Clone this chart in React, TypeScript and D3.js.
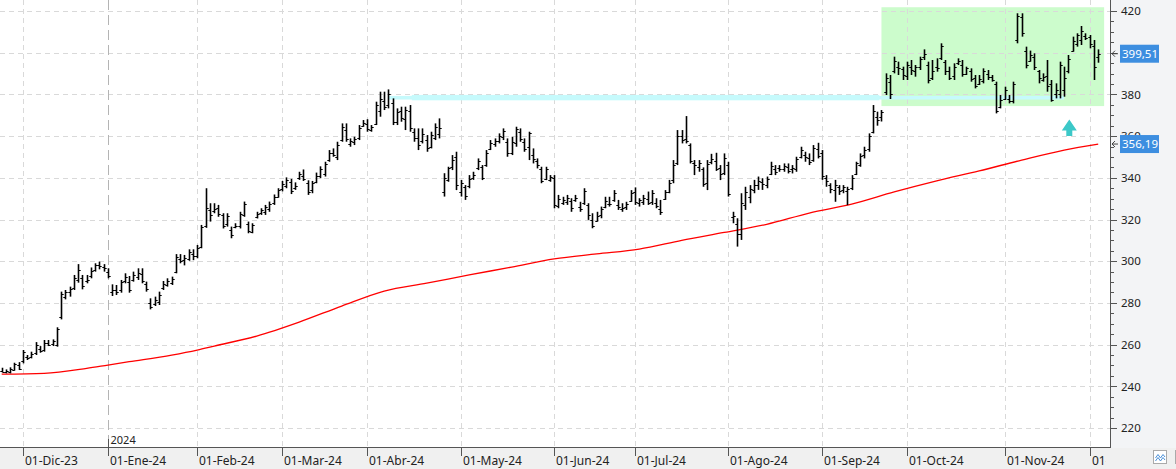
import React from 'react';
import * as d3 from 'd3';

// ---------- DATA ----------
// daily OHLC bars, index 0 = 24-Nov-2023 ... 258 = 04-Dic-2024
const openP = [
247.5,247.0,247.0,248.0,250.0,252.0,254.0,254.0,256.0,258.0,
257.5,261.0,260.5,260.0,273.0,283.0,285.0,287.0,291.0,292.0,
290.5,293.0,296.0,298.0,297.0,295.0,285.0,286.0,286.0,290.5,
290.0,291.0,292.5,294.0,289.0,280.0,279.5,280.5,287.0,288.5,
289.5,295.0,301.0,300.5,301.0,303.5,302.5,307.0,317.0,324.5,
324.0,325.5,322.0,318.0,315.0,316.5,317.0,322.0,318.0,314.0,
321.0,323.0,323.5,325.0,328.0,331.0,334.5,336.0,338.0,335.0,
340.0,341.0,337.5,334.0,338.0,341.0,342.0,348.5,352.0,350.0,
358.0,363.0,356.0,357.0,359.0,365.0,366.0,363.0,366.0,372.0,
377.0,375.0,376.0,367.0,372.0,368.0,372.0,362.0,359.0,357.5,
358.0,355.0,359.0,361.0,333.0,339.0,345.0,350.0,333.0,335.5,
336.0,340.0,344.5,345.0,346.0,354.0,356.0,357.5,359.5,357.0,
352.0,356.5,362.0,357.0,355.0,351.0,348.0,344.0,339.5,339.0,
340.0,326.5,328.0,328.5,329.0,329.5,326.0,328.0,327.0,320.0,
319.5,322.0,326.0,327.5,329.5,327.0,325.0,326.0,329.0,333.0,
328.0,328.5,330.0,328.5,328.0,325.0,330.0,333.0,339.0,347.0,
360.0,358.5,355.5,347.0,345.0,344.0,337.5,347.5,348.0,344.5,
342.5,346.0,321.0,318.0,313.0,327.0,331.0,334.0,336.5,338.0,
336.5,342.0,344.0,344.5,344.0,345.0,344.0,344.0,350.0,351.0,
349.5,348.5,354.0,352.0,340.0,336.5,334.0,335.5,334.0,333.5,
335.0,342.0,346.0,351.0,354.0,362.0,369.0,369.0,381.0,386.0,
391.0,393.0,392.0,389.0,393.0,391.0,393.0,398.0,394.0,388.0,
393.0,397.5,395.5,391.0,389.0,395.0,394.0,390.0,391.0,388.0,
385.0,386.5,390.0,388.5,385.0,374.0,378.0,378.0,377.0,406.0,
417.0,401.0,396.0,398.0,391.0,387.0,389.0,385.0,380.0,380.0,
382.0,391.0,401.0,404.0,406.0,408.0,407.5,403.0,398.0
];
const highP = [
248.9,248.1,249.1,251.3,251.6,257.4,255.0,256.6,261.2,259.3,
262.2,262.2,262.5,268.3,285.4,286.2,287.8,293.4,298.6,293.4,
293.4,297.0,299.0,299.8,298.6,296.6,288.9,288.6,291.0,294.2,
292.9,295.0,296.6,296.6,290.2,282.2,283.0,285.4,290.5,291.8,
292.6,303.4,303.4,303.0,305.7,305.7,307.8,317.4,335.0,327.8,
327.8,327.0,323.0,323.0,316.6,318.2,323.7,328.6,319.0,318.2,
323.7,325.4,327.0,328.6,332.0,335.0,338.5,340.2,339.5,337.8,
342.9,344.0,338.8,338.5,342.5,345.5,347.7,353.3,354.1,357.3,
366.1,366.1,358.9,359.7,365.3,367.7,368.1,365.3,376.5,381.3,
381.3,382.4,378.1,373.3,374.1,374.1,374.9,363.7,363.7,363.7,
360.5,362.1,366.1,368.5,342.2,345.3,350.9,352.5,339.0,336.5,
341.3,342.9,349.3,346.1,353.3,358.1,358.9,361.3,363.7,358.9,
359.7,364.5,363.7,358.9,362.1,354.1,349.3,345.3,345.3,341.3,
341.3,331.8,330.9,331.8,330.2,331.8,328.5,335.0,327.8,323.0,
323.7,326.2,330.9,330.9,334.1,329.4,327.8,328.5,334.1,335.4,
330.2,331.8,333.4,334.1,330.2,329.4,334.1,339.0,348.5,362.9,
362.9,369.6,356.5,348.5,348.5,345.0,348.5,351.5,352.0,346.1,
351.7,347.7,323.7,320.6,332.6,335.7,336.5,339.0,340.6,339.8,
340.6,347.7,346.1,346.1,346.9,346.9,346.1,350.1,354.9,352.5,
351.7,355.7,356.8,353.3,341.3,337.4,339.0,336.5,336.5,335.7,
341.3,347.7,351.7,354.9,361.3,374.9,371.7,372.5,390.1,389.3,
398.1,395.7,393.3,395.7,396.5,394.1,398.1,401.6,395.7,396.5,
397.3,404.5,396.5,393.3,394.9,397.3,396.5,393.3,392.5,389.3,
389.3,392.5,391.7,389.3,386.1,379.7,383.7,379.7,386.1,418.9,
418.9,402.9,401.0,399.7,391.7,390.1,396.5,386.9,385.3,395.7,
393.3,398.9,407.7,409.3,412.8,409.3,408.5,406.1,401.6
];
const lowP = [
246.7,246.2,246.2,247.5,247.8,251.0,252.6,253.4,255.0,256.1,
256.6,259.3,259.3,259.0,272.1,281.7,283.0,286.2,289.7,286.5,
289.4,291.8,295.0,296.1,295.0,291.8,283.3,283.8,284.9,289.4,
284.9,290.2,291.0,289.4,285.4,276.9,278.5,279.0,286.2,287.8,
288.6,294.2,299.0,298.0,300.2,300.5,301.4,306.2,316.0,319.0,
323.0,321.3,315.7,316.6,311.0,315.8,315.7,321.3,313.4,313.4,
320.5,322.2,322.2,323.7,327.0,330.5,333.5,335.0,332.2,334.2,
339.0,338.5,331.8,332.6,337.4,339.8,340.6,347.7,350.1,348.5,
357.3,357.3,354.9,355.7,358.1,364.5,362.1,362.1,365.3,369.3,
372.5,373.3,365.3,365.3,366.9,362.9,362.1,357.3,353.3,356.5,
352.5,354.1,358.1,358.9,331.0,338.1,343.7,334.1,331.0,329.4,
335.0,339.0,343.7,338.9,345.3,353.3,354.9,356.5,358.1,350.1,
350.9,354.9,357.3,352.5,348.5,346.9,344.5,337.4,338.9,338.1,
325.4,325.4,327.0,327.0,323.7,328.5,323.7,327.0,319.8,315.8,
319.0,320.6,325.4,326.2,328.5,324.6,323.7,324.6,328.5,327.0,
326.2,327.0,327.0,327.0,325.4,322.2,329.4,332.6,337.4,346.1,
356.5,356.5,346.9,341.3,342.9,335.7,334.1,346.5,343.3,338.9,
341.3,331.0,318.2,307.0,310.2,324.6,327.8,332.6,334.2,334.2,
335.0,341.3,341.3,342.9,342.9,342.1,342.1,342.9,349.3,347.7,
346.1,347.7,349.3,339.0,335.7,332.6,328.5,331.8,332.6,326.9,
334.1,341.3,345.3,349.3,352.5,361.3,365.0,367.0,379.7,377.8,
390.1,389.3,386.9,386.9,389.3,388.5,391.7,396.5,385.3,386.9,
390.9,396.5,389.3,386.9,386.9,394.1,388.5,389.3,386.1,382.9,
384.5,385.3,386.9,386.1,370.9,373.3,377.3,375.7,375.7,404.5,
407.7,392.5,395.7,391.7,385.3,386.1,381.3,376.5,378.1,378.1,
378.9,390.1,400.5,402.9,403.7,406.1,402.1,386.9,395.2
];
const closeP = [
247.0,247.5,248.5,250.5,248.5,256.5,253.5,255.5,260.0,257.0,
261.0,260.0,261.5,267.5,284.5,285.0,286.5,292.0,296.0,288.0,
291.0,295.5,298.0,297.5,296.5,293.0,286.0,285.0,290.0,292.5,
286.0,293.5,294.5,290.5,286.5,278.0,281.5,284.0,289.0,290.5,
291.5,302.0,300.0,301.5,304.5,302.5,306.5,316.5,325.5,322.0,
325.0,322.5,317.0,321.5,312.5,317.0,322.5,327.5,314.5,317.5,
322.5,324.5,326.0,327.5,331.0,334.0,337.0,339.0,333.5,336.0,
342.0,339.5,333.0,337.5,341.0,344.0,346.5,352.0,351.0,355.5,
364.5,358.5,357.5,358.5,364.0,366.5,363.5,364.5,375.0,378.0,
374.0,380.0,367.0,371.5,368.5,372.5,364.0,359.0,355.5,361.0,
354.5,360.5,364.5,364.0,340.0,344.5,348.5,336.5,337.5,331.5,
339.5,341.5,348.0,340.0,352.0,356.5,357.5,360.0,362.5,352.0,
357.0,363.5,358.5,354.0,361.5,349.0,346.0,338.5,344.0,340.5,
327.0,330.0,329.5,330.5,325.5,330.5,325.0,333.5,322.0,317.0,
321.5,325.0,329.0,327.5,332.5,326.0,325.5,327.5,332.5,328.5,
329.5,330.5,328.0,332.5,326.5,323.5,333.0,337.5,346.0,360.0,
358.0,357.5,348.0,346.0,347.0,337.0,346.5,349.0,344.0,342.0,
349.5,332.0,321.5,313.0,328.0,333.0,334.5,336.5,338.5,337.0,
339.5,345.5,343.0,344.0,345.5,343.5,344.5,349.0,353.5,350.0,
347.5,354.5,350.5,341.0,338.5,334.5,336.5,333.5,335.5,334.5,
340.0,347.0,350.5,353.5,360.0,372.0,367.5,371.5,388.0,380.0,
396.0,392.5,389.5,394.0,391.5,393.0,397.0,399.5,387.0,391.0,
392.5,403.0,391.0,388.0,393.0,396.0,390.0,392.5,387.5,384.0,
387.5,391.0,388.5,387.0,372.0,377.5,382.0,377.0,385.0,417.5,
409.5,394.0,399.0,393.0,388.0,388.5,384.0,377.5,382.0,394.0,
388.0,397.0,405.5,408.5,410.5,407.0,404.0,393.0,399.51
];

// simple moving average read at sample bars
const maIdx = [0,10,20,25,30,40,46,50,60,70,80,90,100,110,120,130,140,150,160,170,180,190,200,210,220,230,240,250,258];
const maVal = [245.8,246.2,248.6,250.2,251.8,255.0,257.4,259.3,264.1,270.8,278.5,285.7,289.5,293.4,297.2,301.1,303.5,305.8,310.0,313.8,317.7,323.1,327.4,333.2,338.5,343.3,348.5,353.3,356.19];

const monthLabels = ['01-Dic-23','01-Ene-24','01-Feb-24','01-Mar-24','01-Abr-24','01-May-24','01-Jun-24','01-Jul-24','01-Ago-24','01-Sep-24','01-Oct-24','01-Nov-24','01-Dic-24'];
const monthStartIdx = [5,25,46,66,86,108,130,149,171,193,213,236,256];
const yearLabel = '2024';
const yearIdx = 25;

// 400 sits under the last-price badge in the reference, so it is not labelled
const yTicks = [220,240,260,280,300,320,340,360,380,400,420];
const yTickLabels = [220,240,260,280,300,320,340,360,380,420];
const lastClose = 399.51;
const lastMA = 356.19;

// annotations (in data units)
const resistLevel = 378.5;
const resistFrom = 91;
const resistTo = 250;
const boxFromIdx = 207;
const boxToIdx = 259.4;
const boxLow = 374.4;
const boxHigh = 421.8;
const arrowIdx = 251.2;
const arrowBase = 360.0;
const arrowTop = 368.0;

const FONT = "'Noto Sans', 'Open Sans', sans-serif";

export default function App() {
  const W = 1176, H = 469;
  const plotR = 1110;
  const axisY = 448;
  const x = d3.scaleLinear().domain([0, 258]).range([1.7, 1098.2]);
  const y = d3.scaleLinear().domain([220, 420]).range([428, 11]);

  const minorTicks = d3.range(220, 421, 5);
  const fmt = (v: number) => v.toFixed(2).replace('.', ',');

  const maLine = d3.line<number>()
    .x((_, i) => x(maIdx[i]))
    .y((d) => y(d))
    .curve(d3.curveMonotoneX)(maVal) || '';

  const bars = openP.map((o, i) => ({ i, o, h: highP[i], l: lowP[i], c: closeP[i] }));

  const ax = x(arrowIdx);
  const aTop = y(arrowTop);
  const aBase = y(arrowBase);
  const aMid = aTop + (aBase - aTop) * 0.66;
  const arrowPath = `M${ax},${aTop} L${ax + 7.5},${aMid} L${ax + 3},${aMid} L${ax + 3},${aBase} L${ax - 3},${aBase} L${ax - 3},${aMid} L${ax - 7.5},${aMid} Z`;

  const badge = (v: number, key: string) => {
    const cy = y(v);
    return (
      <g key={key}>
        <path d={`M${plotR + 2},${cy} L${plotR + 8},${cy} M${plotR + 2},${cy} L${plotR + 5},${cy - 3} M${plotR + 2},${cy} L${plotR + 5},${cy + 3}`} stroke="#444" strokeWidth={1} fill="none" />
        <rect x={1120} y={cy - 9} width={39} height={18} fill="#3d8ee0" />
        <text x={1122} y={cy + 4.2} fontFamily={FONT} fontSize={11.5} fill="#fff">{fmt(v)}</text>
      </g>
    );
  };

  return (
    <svg width={W} height={H} style={{ position: 'absolute', left: 0, top: 0, display: 'block' }}>
      <defs>
        <clipPath id="plotClip"><rect x={0} y={0} width={plotR} height={axisY} /></clipPath>
        <clipPath id="xlabClip"><rect x={0} y={axisY} width={1106} height={H - axisY} /></clipPath>
      </defs>
      <rect x={0} y={0} width={W} height={H} fill="#ffffff" />
      <rect x={plotR} y={0} width={W - plotR} height={axisY} fill="#f3f4f6" />
      <rect x={0} y={axisY} width={W} height={H - axisY} fill="#f0f0f0" />

      <g clipPath="url(#plotClip)">
        {/* green zone */}
        <rect x={x(boxFromIdx)} y={y(boxHigh)} width={x(boxToIdx) - x(boxFromIdx)} height={y(boxLow) - y(boxHigh)} fill="#ccfccc" />
        {/* horizontal grid */}
        {yTicks.map((v) => (
          <line key={'g' + v} x1={0} x2={plotR} y1={Math.round(y(v)) + 0.5} y2={Math.round(y(v)) + 0.5} stroke="#d9d9d9" strokeDasharray="5,4" />
        ))}
        {/* vertical month grid */}
        {monthStartIdx.map((idx, k) => {
          const xx = Math.round(x(idx)) + 0.5;
          const isYear = idx === yearIdx;
          return (
            <line key={'v' + k} x1={xx} x2={xx} y1={0} y2={axisY} stroke={isYear ? '#b4b4b4' : '#d9d9d9'} strokeDasharray={isYear ? '10,5' : '5,4'} />
          );
        })}
        {/* resistance band */}
        <rect x={x(resistFrom)} y={y(resistLevel) - 1.6} width={x(resistTo) - x(resistFrom)} height={3.6} fill="#c6fafc" />
        <rect x={x(resistFrom + 5.5)} y={y(resistLevel) - 2.6} width={x(206.5) - x(resistFrom + 5.5)} height={5.4} fill="#c6fafc" />
        {/* moving average */}
        <path d={maLine} fill="none" stroke="#ff0000" strokeWidth={1.3} />
        {/* OHLC bars */}
        {bars.map((b) => {
          const xx = Math.round(x(b.i)) + 0.5;
          return (
            <g key={'b' + b.i}>
              <line x1={xx} x2={xx} y1={y(b.h)} y2={y(b.l)} stroke="#000" strokeWidth={1.6} />
              <line x1={xx - 2.2} x2={xx} y1={Math.round(y(b.o)) + 0.5} y2={Math.round(y(b.o)) + 0.5} stroke="#000" strokeWidth={1} />
              <line x1={xx} x2={xx + 2.2} y1={Math.round(y(b.c)) + 0.5} y2={Math.round(y(b.c)) + 0.5} stroke="#000" strokeWidth={1} />
            </g>
          );
        })}
        {/* signal arrow */}
        <path d={arrowPath} fill="#3cc8c8" />
      </g>

      {/* axes */}
      <line x1={plotR + 0.5} x2={plotR + 0.5} y1={0} y2={axisY} stroke="#555" strokeWidth={1} />
      <line x1={0} x2={plotR + 1} y1={axisY - 0.5} y2={axisY - 0.5} stroke="#555" strokeWidth={1} />

      {/* y ticks */}
      {minorTicks.map((v) => {
        const major = v % 20 === 0;
        const yy = Math.round(y(v)) + 0.5;
        return <line key={'t' + v} x1={plotR + 1} x2={plotR + (major ? 7 : 4)} y1={yy} y2={yy} stroke="#555" />;
      })}
      {yTickLabels.map((v) => (
        <text key={'l' + v} x={1121} y={y(v) + 4.2} fontFamily={FONT} fontSize={11.5} fill="#222">{v}</text>
      ))}

      {badge(lastMA, 'ma')}
      {badge(lastClose, 'close')}

      {/* x ticks and labels */}
      <g clipPath="url(#xlabClip)">
        {monthStartIdx.map((idx, k) => {
          const xx = Math.round(x(idx)) + 0.5;
          return (
            <g key={'x' + k}>
              <line x1={xx} x2={xx} y1={axisY} y2={axisY + 8} stroke="#555" />
              <text x={xx + 1.5} y={axisY + 17} fontFamily={FONT} fontSize={12} fill="#222">{monthLabels[k]}</text>
            </g>
          );
        })}
      </g>
      {/* year marker */}
      <line x1={Math.round(x(yearIdx)) + 0.5} x2={Math.round(x(yearIdx)) + 0.5} y1={439} y2={axisY} stroke="#555" />
      <text x={Math.round(x(yearIdx)) + 2.5} y={443.5} fontFamily={FONT} fontSize={11} fill="#222">{yearLabel}</text>

      {/* bottom right buttons */}
      <rect x={1153.5} y={450.5} width={13} height={13} fill="#fff" stroke="#aaa" />
      <path d="M1155.5,458 L1158,454.5 L1160.5,458 L1163,454.5 L1165,457 M1155.5,461 L1158,457.5 L1160.5,461 L1163,457.5 L1165,460" fill="none" stroke="#4a90d9" strokeWidth={1} />
      <line x1={1175.5} x2={1175.5} y1={450} y2={464} stroke="#aaa" />
    </svg>
  );
}
